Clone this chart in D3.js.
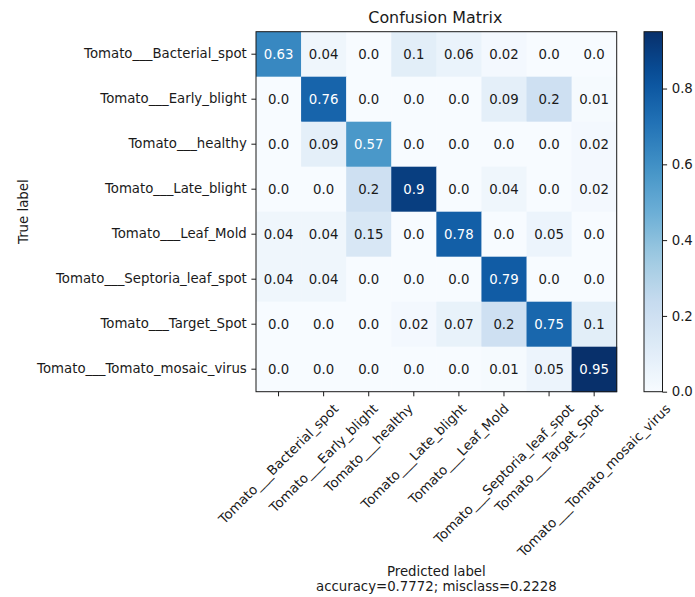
<!DOCTYPE html>
<html>
<head>
<meta charset="utf-8">
<script src="https://cdn.jsdelivr.net/npm/d3@7"></script>
<style>
  html, body { margin: 0; padding: 0; background: #fff; }
  svg { display: block; font-family: "DejaVu Sans", sans-serif; }
</style>
</head>
<body>
<svg id="chart" width="695" height="597"></svg>
<script>
// Class names (true labels on rows, predicted labels on columns)
const classes = [
  "Tomato___Bacterial_spot",
  "Tomato___Early_blight",
  "Tomato___healthy",
  "Tomato___Late_blight",
  "Tomato___Leaf_Mold",
  "Tomato___Septoria_leaf_spot",
  "Tomato___Target_Spot",
  "Tomato___Tomato_mosaic_virus"
];

// One row per true class
const rowBacterialSpot = [0.63, 0.04, 0.0, 0.1, 0.06, 0.02, 0.0, 0.0];
const rowEarlyBlight   = [0.0, 0.76, 0.0, 0.0, 0.0, 0.09, 0.2, 0.01];
const rowHealthy       = [0.0, 0.09, 0.57, 0.0, 0.0, 0.0, 0.0, 0.02];
const rowLateBlight    = [0.0, 0.0, 0.2, 0.9, 0.0, 0.04, 0.0, 0.02];
const rowLeafMold      = [0.04, 0.04, 0.15, 0.0, 0.78, 0.0, 0.05, 0.0];
const rowSeptoria      = [0.04, 0.04, 0.0, 0.0, 0.0, 0.79, 0.0, 0.0];
const rowTargetSpot    = [0.0, 0.0, 0.0, 0.02, 0.07, 0.2, 0.75, 0.1];
const rowMosaicVirus   = [0.0, 0.0, 0.0, 0.0, 0.0, 0.01, 0.05, 0.95];

const matrix = [rowBacterialSpot, rowEarlyBlight, rowHealthy, rowLateBlight,
                rowLeafMold, rowSeptoria, rowTargetSpot, rowMosaicVirus];

const colorbarTicks = [0.0, 0.2, 0.4, 0.6, 0.8];
const accuracy = 0.7772;
const misclass = 0.2228;

// ---- layout ----
const svg = d3.select("#chart");
const FS = 13.3;            // base font size
const tickLen = 4.6, tickPad = 4.6;
const plot = { left: 256, top: 31.7, width: 360.7, height: 360 };
const cbar = { left: 644, width: 18.5 };
const ink = "#1a1a1a";

const idx = d3.range(classes.length);
const x = d3.scaleBand().domain(idx).range([plot.left, plot.left + plot.width]);
const y = d3.scaleBand().domain(idx).range([plot.top, plot.top + plot.height]);

const vmax = d3.max(matrix.flat());
// Blues colour map: ColorBrewer stops, linear between them
const blues = d3.schemeBlues[9];
const color = d3.scaleLinear()
  .domain(blues.map((_, i) => i / (blues.length - 1) * vmax))
  .range(blues)
  .interpolate(d3.interpolateRgb)
  .clamp(true);

const fmt = v => { const s = String(v); return s.includes(".") ? s : s + ".0"; };
const thresh = vmax / 2;

const cells = matrix.flatMap((row, r) => row.map((v, c) => ({ r, c, v })));

// cells
svg.append("g").selectAll("rect").data(cells).join("rect")
  .attr("x", d => x(d.c)).attr("y", d => y(d.r))
  .attr("width", x.bandwidth() + 0.5).attr("height", y.bandwidth() + 0.5)
  .attr("fill", d => color(d.v));

// cell annotations
svg.append("g").selectAll("text").data(cells).join("text")
  .attr("x", d => x(d.c) + x.bandwidth() / 2)
  .attr("y", d => y(d.r) + y.bandwidth() / 2)
  .attr("text-anchor", "middle").attr("dominant-baseline", "central")
  .attr("font-size", FS)
  .attr("fill", d => d.v > thresh ? "#ffffff" : ink)
  .text(d => fmt(d.v));

// frame
svg.append("rect")
  .attr("x", plot.left).attr("y", plot.top)
  .attr("width", plot.width).attr("height", plot.height)
  .attr("fill", "none").attr("stroke", ink).attr("stroke-width", 1);

// y axis (true labels)
const yAxis = svg.append("g")
  .attr("transform", `translate(${plot.left},0)`)
  .call(d3.axisLeft(y).tickSize(tickLen).tickPadding(tickPad).tickFormat(i => classes[i]));
yAxis.select(".domain").remove();
yAxis.selectAll("line").attr("stroke", ink);
yAxis.selectAll("text").attr("font-size", FS).attr("fill", ink)
  .attr("font-family", "DejaVu Sans, sans-serif");

// x axis (predicted labels), rotated 45 degrees and centred under each tick
const xAxis = svg.append("g")
  .attr("transform", `translate(0,${plot.top + plot.height})`)
  .call(d3.axisBottom(x).tickSize(tickLen).tickPadding(tickPad).tickFormat(i => classes[i]));
xAxis.select(".domain").remove();
xAxis.selectAll("line").attr("stroke", ink);
const lineH = FS * 1.164;
let labelBottom = 0;
xAxis.selectAll("text")
  .attr("font-size", FS).attr("fill", ink)
  .attr("font-family", "DejaVu Sans, sans-serif")
  .attr("text-anchor", "middle").attr("dominant-baseline", "central")
  .attr("dy", null)
  .each(function () {
    const w = this.getComputedTextLength();
    const box = (w + lineH) / Math.SQRT2;
    const cy = tickLen + tickPad + box / 2;
    labelBottom = Math.max(labelBottom, tickLen + tickPad + box);
    d3.select(this).attr("y", 0).attr("transform", `translate(0,${cy}) rotate(-45)`);
  });

// axis titles
const xTitleTop = plot.top + plot.height + labelBottom + 4;
const xTitle = svg.append("text")
  .attr("x", plot.left + plot.width / 2).attr("y", xTitleTop)
  .attr("text-anchor", "middle").attr("font-size", FS).attr("fill", ink);
xTitle.append("tspan").attr("x", plot.left + plot.width / 2).attr("dy", "0.93em").text("Predicted label");
xTitle.append("tspan").attr("x", plot.left + plot.width / 2).attr("dy", "1.12em")
  .text(`accuracy=${accuracy.toFixed(4)}; misclass=${misclass.toFixed(4)}`);

svg.append("text")
  .attr("transform", `translate(23,${plot.top + plot.height / 2}) rotate(-90)`)
  .attr("text-anchor", "middle").attr("dominant-baseline", "central")
  .attr("font-size", FS).attr("fill", ink).text("True label");

svg.append("text")
  .attr("x", plot.left + plot.width / 2 - 1).attr("y", 17)
  .attr("text-anchor", "middle").attr("dominant-baseline", "central")
  .attr("font-size", 15.9).attr("fill", ink).text("Confusion Matrix");

// colour bar
const cy = d3.scaleLinear().domain([0, vmax]).range([plot.top + plot.height, plot.top]);
const defs = svg.append("defs");
const grad = defs.append("linearGradient").attr("id", "cbgrad")
  .attr("x1", 0).attr("y1", 1).attr("x2", 0).attr("y2", 0);
d3.range(0, 1.0001, 0.05).forEach(t => {
  grad.append("stop").attr("offset", t).attr("stop-color", color(t * vmax));
});
svg.append("rect")
  .attr("x", cbar.left).attr("y", plot.top)
  .attr("width", cbar.width).attr("height", plot.height)
  .attr("fill", "url(#cbgrad)").attr("stroke", ink).attr("stroke-width", 1);

const cAxis = svg.append("g")
  .attr("transform", `translate(${cbar.left + cbar.width},0)`)
  .call(d3.axisRight(cy).tickValues(colorbarTicks).tickSize(tickLen).tickPadding(tickPad)
        .tickFormat(d3.format(".1f")));
cAxis.select(".domain").remove();
cAxis.selectAll("line").attr("stroke", ink);
cAxis.selectAll("text").attr("font-size", FS).attr("fill", ink)
  .attr("font-family", "DejaVu Sans, sans-serif");
</script>
</body>
</html>
